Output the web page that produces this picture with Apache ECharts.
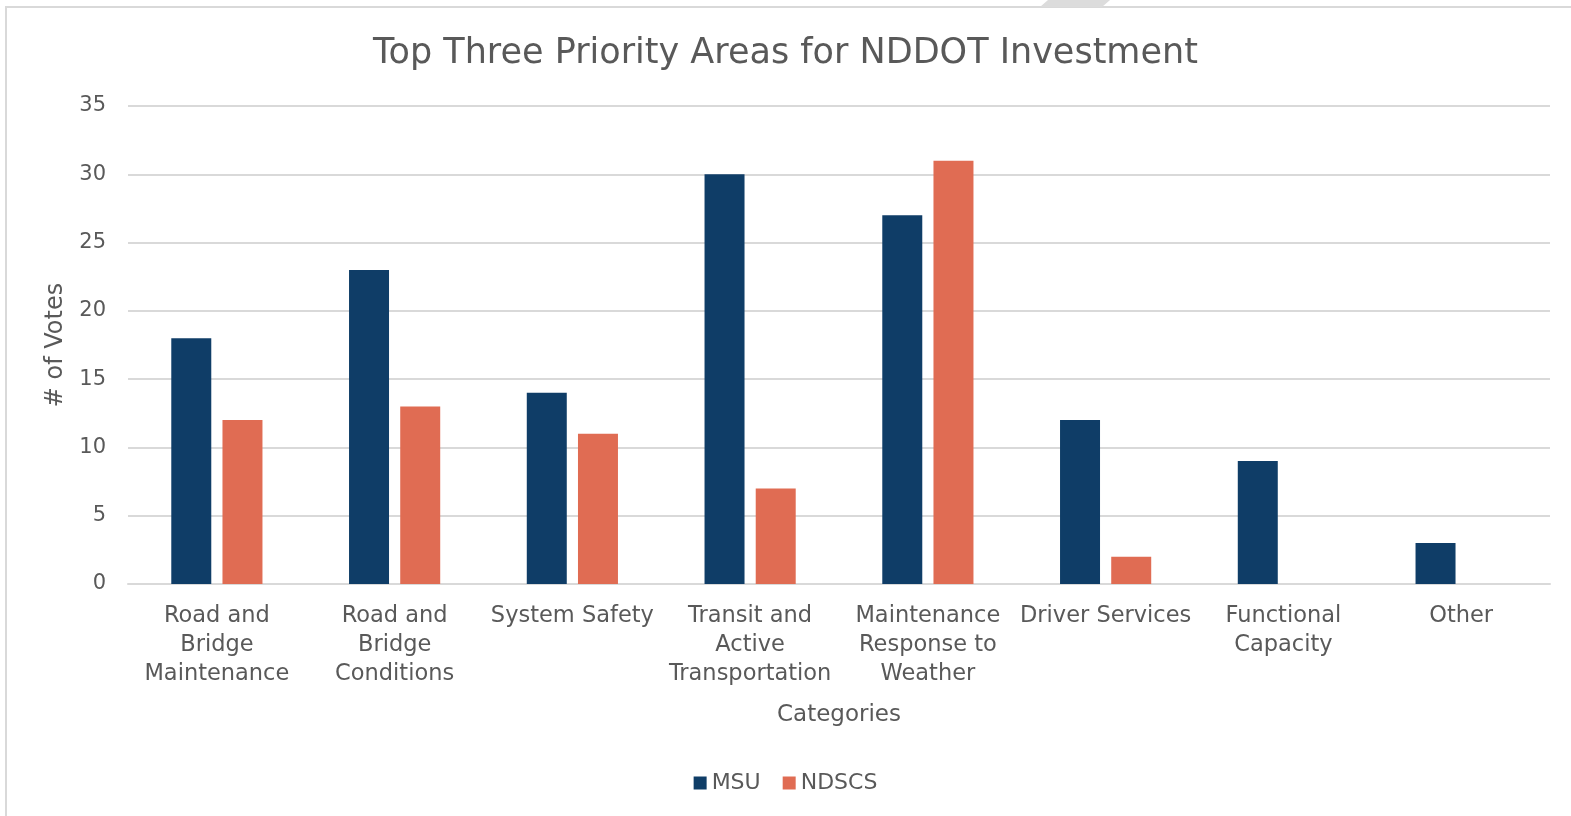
<!DOCTYPE html>
<html>
<head>
<meta charset="utf-8">
<script src="https://cdn.jsdelivr.net/npm/echarts@6/dist/echarts.min.js"></script>
<style>
html,body{margin:0;padding:0;background:#fff;}
#chart{width:1571px;height:816px;}
</style>
</head>
<body>
<div id="chart"></div>
<script>
const categories = ["Road and\nBridge\nMaintenance", "Road and\nBridge\nConditions", "System Safety", "Transit and\nActive\nTransportation", "Maintenance\nResponse to\nWeather", "Driver Services", "Functional\nCapacity", "Other"];
const msu = [18, 23, 14, 30, 27, 12, 9, 3];
const ndscs = [12, 13, 11, 7, 31, 2, null, null];
const yTicks = {min: 0, max: 35, interval: 5};

const FONT = "DejaVu Sans";
const TXT = "#595959";
const chart = echarts.init(document.getElementById('chart'));
chart.setOption({
  backgroundColor: '#fff',
  animation: false,
  textStyle: {fontFamily: FONT},
  graphic: [
    {type: 'rect', shape: {x: 6, y: 7, width: 1700, height: 900}, style: {fill: 'none', stroke: '#d9d9d9', lineWidth: 2}, z: -10},
    {type: 'polygon', shape: {points: [[1040, 7], [1048, 0], [1110, 0], [1102, 7]]}, style: {fill: '#dcdcdc'}, z: -10}
  ],
  title: {
    text: 'Top Three Priority Areas for NDDOT Investment',
    left: 'center', top: 31,
    textStyle: {fontFamily: FONT, fontSize: 35, fontWeight: 'normal', color: TXT}
  },
  legend: {
    bottom: 17, left: 'center',
    itemWidth: 13, itemHeight: 13, itemGap: 22, icon: 'rect',
    textStyle: {fontFamily: FONT, fontSize: 22, color: TXT},
    data: ['MSU', 'NDSCS']
  },
  grid: {left: 128, right: 21, top: 106, bottom: 232, containLabel: false},
  xAxis: {
    type: 'category', data: categories,
    name: 'Categories', nameLocation: 'middle', nameGap: 120,
    nameTextStyle: {fontFamily: FONT, fontSize: 23, color: TXT},
    axisLine: {lineStyle: {color: '#d9d9d9', width: 2}},
    axisTick: {show: false},
    axisLabel: {interval: 0, margin: 18, fontFamily: FONT, fontSize: 22.5, color: TXT, lineHeight: 29}
  },
  yAxis: {
    type: 'value', min: yTicks.min, max: yTicks.max, interval: yTicks.interval,
    name: '# of Votes', nameLocation: 'middle', nameGap: 60,
    nameTextStyle: {fontFamily: FONT, fontSize: 24, color: TXT},
    axisLine: {show: false}, axisTick: {show: false},
    axisLabel: {margin: 22, fontFamily: FONT, fontSize: 21, color: TXT},
    splitLine: {lineStyle: {color: '#d9d9d9', width: 2}}
  },
  series: [
    {name: 'MSU', type: 'bar', data: msu, barWidth: '22.5%', barGap: '28%', itemStyle: {color: '#0f3d67'}},
    {name: 'NDSCS', type: 'bar', data: ndscs, barWidth: '22.5%', itemStyle: {color: '#e06c53'}}
  ]
});
</script>
</body>
</html>
